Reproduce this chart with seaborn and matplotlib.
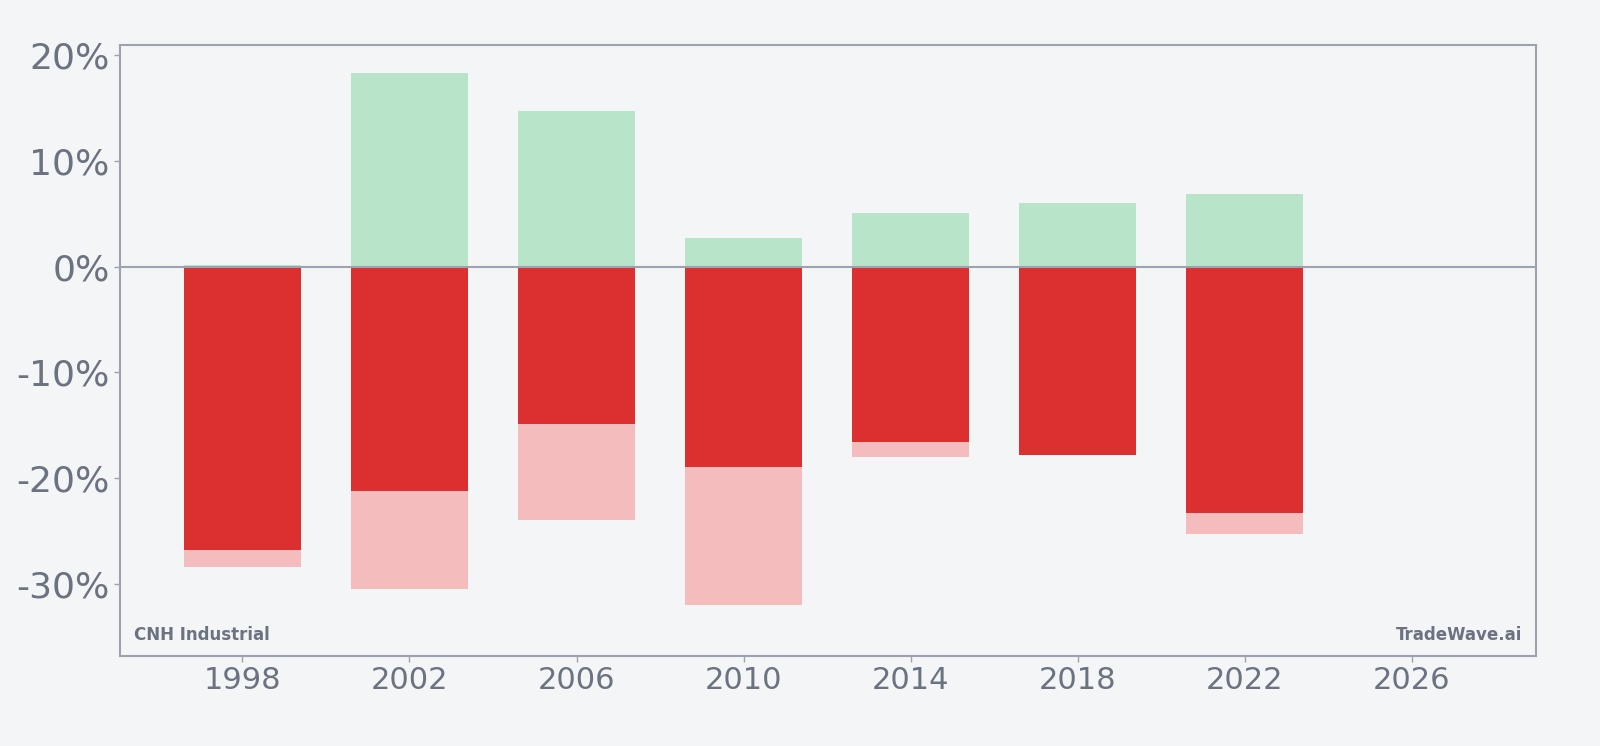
import pandas as pd
import matplotlib.pyplot as plt
import seaborn as sns
from matplotlib.ticker import FuncFormatter

# ===============================
# Data (percent)
# ===============================
years = [1998, 2002, 2006, 2010, 2014, 2018, 2022]
gain = [0.2, 18.3, 14.7, 2.7, 5.1, 6.0, 6.9]
loss = [-26.8, -21.2, -14.9, -18.9, -16.6, -17.8, -23.3]
low = [-28.4, -30.5, -24.0, -32.0, -18.0, -17.8, -25.3]
x_ticks = [1998, 2002, 2006, 2010, 2014, 2018, 2022, 2026]
y_ticks = [-30, -20, -10, 0, 10, 20]

df = pd.DataFrame({'year': years, 'gain': gain, 'loss': loss, 'low': low})

bg = '#f4f5f7'
text_col = '#6b7280'
spine_col = '#9ca3af'

sns.set_style('white', rc={'axes.facecolor': bg, 'figure.facecolor': bg})

fig = plt.figure(figsize=(16, 7.46), dpi=100)
ax = fig.add_axes([0.075, 0.121, 0.885, 0.819])

# ===============================
# Bars: pink range behind, red loss, green gain
# ===============================
sns.barplot(data=df, x='year', y='low', native_scale=True, width=0.7,
            color='#f4bcbc', saturation=1, linewidth=0, ax=ax)
sns.barplot(data=df, x='year', y='loss', native_scale=True, width=0.7,
            color='#dc3030', saturation=1, linewidth=0, ax=ax)
sns.barplot(data=df, x='year', y='gain', native_scale=True, width=0.7,
            color='#b8e4c9', saturation=1, linewidth=0, ax=ax)

ax.axhline(0, color=spine_col, lw=1.5, zorder=3)

ax.set_xlim(1995.07, 2028.97)
ax.set_ylim(-36.8, 21.0)
ax.set_xticks(x_ticks)
ax.set_xticklabels([str(t) for t in x_ticks])
ax.set_yticks(y_ticks)
ax.yaxis.set_major_formatter(FuncFormatter(lambda v, p: f'{v:.0f}%'))
ax.set_xlabel('')
ax.set_ylabel('')

ax.tick_params(axis='y', labelsize=26, colors=text_col, length=4, width=1, color=spine_col)
ax.tick_params(axis='x', labelsize=22, colors=text_col, length=4, width=1, color=spine_col)
ax.tick_params(axis='both', left=True, bottom=True)

for s in ax.spines.values():
    s.set_color(spine_col)
    s.set_linewidth(1.5)

ax.text(0.01, 0.02, 'CNH Industrial', transform=ax.transAxes, fontsize=12,
        fontweight='bold', color=text_col, ha='left', va='bottom')
ax.text(0.99, 0.02, 'TradeWave.ai', transform=ax.transAxes, fontsize=12,
        fontweight='bold', color=text_col, ha='right', va='bottom')

plt.savefig('out.png', dpi=100, facecolor=bg)
plt.close()
